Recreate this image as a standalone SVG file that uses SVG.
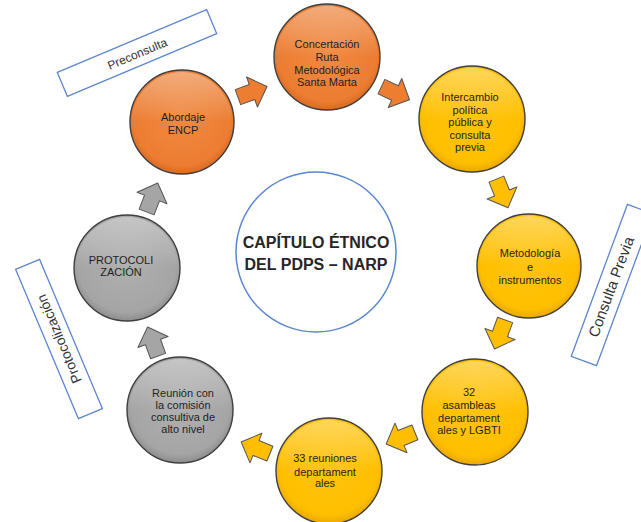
<svg xmlns="http://www.w3.org/2000/svg" width="641" height="522" viewBox="0 0 641 522">
<style>
.node{stroke:#3f3f3f;stroke-width:1.4}
.lbl{font-family:"Liberation Sans",Arial,sans-serif;font-size:11px;fill:#1f1f1f;text-anchor:middle}
.box{fill:#fff;stroke:#5b86d0;stroke-width:1.3}
.boxt{font-family:"Liberation Sans",Arial,sans-serif;fill:#333;text-anchor:middle}
.arr{stroke:#555;stroke-width:1;stroke-linejoin:round}
</style>
<defs>
<radialGradient id="gO" cx="50%" cy="45%" r="55%"><stop offset="0" stop-color="#f08a42"/><stop offset="0.85" stop-color="#ec7d31"/><stop offset="1" stop-color="#d86a22"/></radialGradient>
<radialGradient id="gY" cx="50%" cy="45%" r="55%"><stop offset="0" stop-color="#ffc410"/><stop offset="0.85" stop-color="#ffbf00"/><stop offset="1" stop-color="#eaa800"/></radialGradient>
<radialGradient id="gG" cx="50%" cy="45%" r="55%"><stop offset="0" stop-color="#b0b0b0"/><stop offset="0.85" stop-color="#a5a5a5"/><stop offset="1" stop-color="#8d8d8d"/></radialGradient>
<linearGradient id="gl" x1="0" y1="0" x2="0" y2="1"><stop offset="0" stop-color="#fff" stop-opacity="0.35"/><stop offset="0.5" stop-color="#fff" stop-opacity="0"/></linearGradient>
<path id="ar" d="M-15,-8 L0,-8 L0,-16 L16,0 L0,16 L0,8 L-15,8 Z"/>
</defs>
<rect width="641" height="522" fill="#fff"/>

<g id="labels">
<g id="preconsulta" transform="translate(137,53) rotate(-22.8)"><rect class="box" x="-81" y="-13" width="162" height="26"/><text class="boxt" x="0" y="5" font-size="12">Preconsulta</text></g>
<g id="consulta-previa" transform="translate(612,285) rotate(-69.7)"><rect class="box" x="-81" y="-13.5" width="162" height="27"/><text class="boxt" x="-2" y="5" font-size="15">Consulta Previa</text></g>
<g id="protocolizacion" transform="translate(59,339) rotate(-112.8)"><rect class="box" x="-81" y="-13" width="162" height="26"/><text class="boxt" x="0" y="5" font-size="14">Protocolización</text></g>
</g>

<g id="connectors">
<use href="#ar" class="arr" fill="#ec7d31" transform="translate(252,92) rotate(-20)"/>
<use href="#ar" class="arr" fill="#ec7d31" transform="translate(395,93) rotate(25)"/>
<use href="#ar" class="arr" fill="#ffbf00" transform="translate(502,193) rotate(68)"/>
<use href="#ar" class="arr" fill="#ffbf00" transform="translate(500,334) rotate(110)"/>
<use href="#ar" class="arr" fill="#ffbf00" transform="translate(401,438) rotate(158)"/>
<use href="#ar" class="arr" fill="#ffbf00" transform="translate(256,448) rotate(202)"/>
<use href="#ar" class="arr" fill="#a5a5a5" transform="translate(153,342) rotate(250)"/>
<use href="#ar" class="arr" fill="#a5a5a5" transform="translate(152,198) rotate(291)"/>
</g>

<g id="center">
<circle cx="316" cy="252" r="80" fill="#fff" stroke="#5b86d0" stroke-width="1.5"/>
<text font-family="Liberation Sans,Arial,sans-serif" font-weight="bold" font-size="16" fill="#262626" text-anchor="middle"><tspan x="316" y="248">CAPÍTULO ÉTNICO</tspan><tspan x="316" y="270">DEL PDPS – NARP</tspan></text>
</g>

<g id="n-abordaje"><circle class="node" cx="182" cy="122" r="52" fill="url(#gO)"/><circle cx="182" cy="122" r="50" fill="url(#gl)"/><text class="lbl"><tspan x="183" y="121">Abordaje</tspan><tspan x="183" y="134">ENCP</tspan></text></g>
<g id="n-concertacion"><circle class="node" cx="327" cy="57" r="53" fill="url(#gO)"/><circle cx="327" cy="57" r="51" fill="url(#gl)"/><text class="lbl"><tspan x="327" y="48">Concertación</tspan><tspan x="327" y="61">Ruta</tspan><tspan x="327" y="74">Metodológica</tspan><tspan x="327" y="86">Santa Marta</tspan></text></g>
<g id="n-intercambio"><circle class="node" cx="472" cy="119" r="53" fill="url(#gY)"/><circle cx="472" cy="119" r="51" fill="url(#gl)"/><text class="lbl"><tspan x="470" y="101">Intercambio</tspan><tspan x="470" y="114">política</tspan><tspan x="470" y="126">pública y</tspan><tspan x="470" y="139">consulta</tspan><tspan x="470" y="151">previa</tspan></text></g>
<g id="n-metodologia"><circle class="node" cx="529" cy="266" r="52" fill="url(#gY)"/><circle cx="529" cy="266" r="50" fill="url(#gl)"/><text class="lbl"><tspan x="530" y="257">Metodología</tspan><tspan x="530" y="271">e</tspan><tspan x="530" y="284">instrumentos</tspan></text></g>
<g id="n-asambleas"><circle class="node" cx="475" cy="412" r="53" fill="url(#gY)"/><circle cx="475" cy="412" r="51" fill="url(#gl)"/><text class="lbl"><tspan x="469" y="396">32</tspan><tspan x="469" y="409">asambleas</tspan><tspan x="469" y="422">departament</tspan><tspan x="469" y="434">ales y LGBTI</tspan></text></g>
<g id="n-reuniones"><circle class="node" cx="329" cy="471" r="53" fill="url(#gY)"/><circle cx="329" cy="471" r="51" fill="url(#gl)"/><text class="lbl"><tspan x="325" y="462">33 reuniones</tspan><tspan x="325" y="476">departament</tspan><tspan x="325" y="487">ales</tspan></text></g>
<g id="n-reunion-comision"><circle class="node" cx="180" cy="410" r="53" fill="url(#gG)"/><circle cx="180" cy="410" r="51" fill="url(#gl)"/><text class="lbl"><tspan x="183" y="397">Reunión con</tspan><tspan x="183" y="409">la comisión</tspan><tspan x="183" y="421">consultiva de</tspan><tspan x="183" y="433">alto nivel</tspan></text></g>
<g id="n-protocolizacion"><circle class="node" cx="127" cy="268" r="53" fill="url(#gG)"/><circle cx="127" cy="268" r="51" fill="url(#gl)"/><text class="lbl"><tspan x="121" y="264">PROTOCOLI</tspan><tspan x="121" y="276">ZACIÓN</tspan></text></g>
</svg>
